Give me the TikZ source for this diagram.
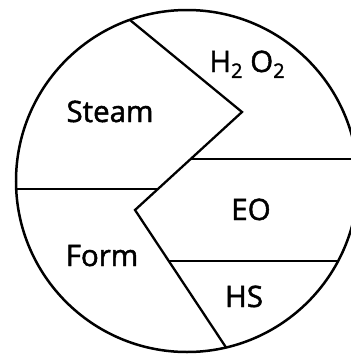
\documentclass[tikz,border=0pt]{standalone}
\usepackage{fontspec}
\setmainfont{Open Sans}[FakeBold=1.6]
\usetikzlibrary{calc}
\newcommand{\subdigit}[1]{\raisebox{-0.2em}{\fontsize{20}{20}\selectfont #1}}
\begin{document}
\begin{tikzpicture}[x=1pt,y=-1pt,
  divider/.style={line width=2.3pt, line join=miter},
  rim/.style={line width=2.5pt},
  lbl/.style={anchor=base, inner sep=0pt, font=\fontsize{29.5}{31}\selectfont}]
\useasboundingbox (0,0) rectangle (351,354);
\clip (0,0) rectangle (351,354);
\coordinate (O) at (187,181);
\coordinate (A) at (119,11);
\coordinate (B) at (242,112);
\coordinate (E) at (135,210);
\coordinate (G) at (237,364);
\coordinate (C) at ($(B)!0.48!(E)$);
\coordinate (D) at ($(B)!0.786!(E)$);
\coordinate (F) at ($(E)!0.3333!(G)$);
\coordinate (Cr) at (400,159);
\coordinate (Dl) at (0,189);
\coordinate (Fr) at (400,256);
\begin{scope}
  \clip (O) circle (171pt);
  \draw[divider] (A) -- (B) -- (E) -- (G);
  \draw[divider] (C) -- (C -| Cr);
  \draw[divider] (D) -- (D -| Dl);
  \draw[divider] (F) -- (F -| Fr);
\end{scope}
\draw[rim] (O) circle (171pt);
\node[lbl] (steam) at (110,122) {Steam};
\node[lbl] (h2o2) at (247,72) {H\subdigit{2} O\subdigit{2}};
\node[lbl] (eo) at (251,220) {EO};
\node[lbl] (form) at (102,266) {Form};
\node[lbl] (hs) at (244,307) {HS};
\end{tikzpicture}
\end{document}
